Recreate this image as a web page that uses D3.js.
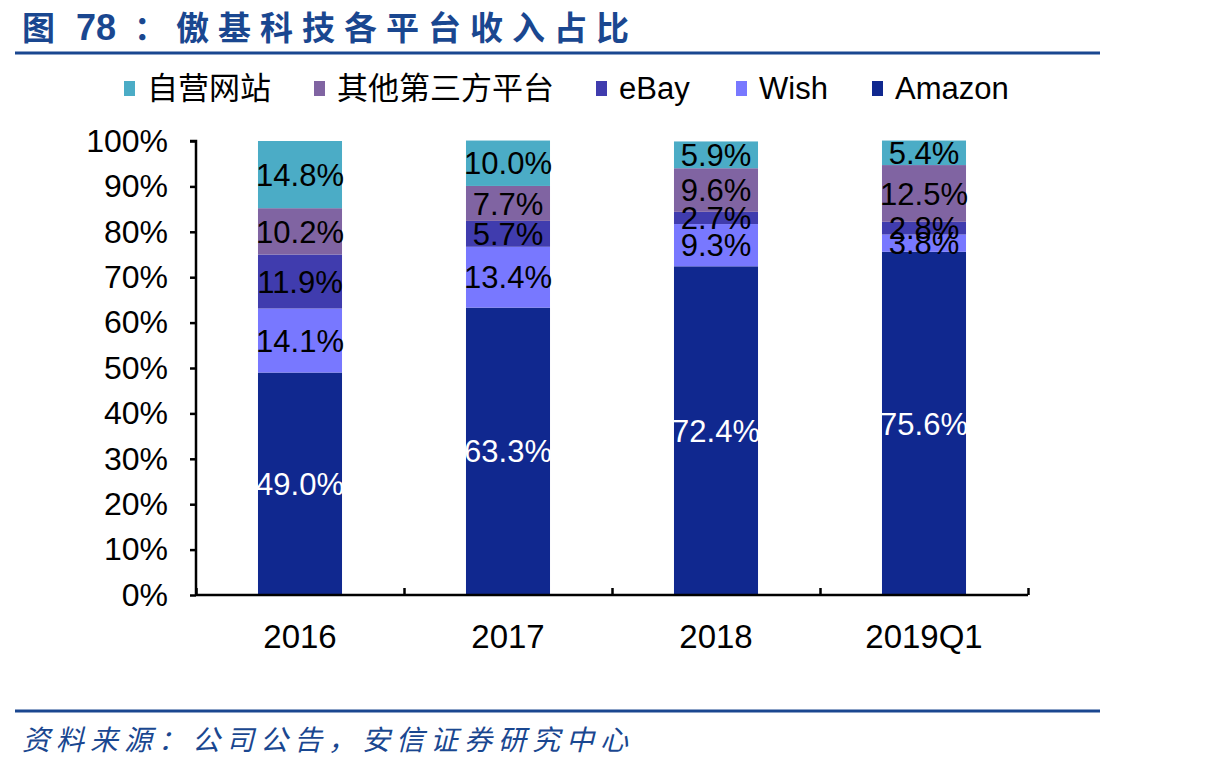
<!DOCTYPE html>
<html><head><meta charset="utf-8">
<script src="https://cdn.jsdelivr.net/npm/d3@7"></script>
<style>body{margin:0;background:#fff}svg{display:block}</style>
</head><body><svg id="c" width="1213" height="768"></svg>
<script>
const categories = ["2016","2017","2018","2019Q1"];
const seriesNames = ["Amazon","Wish","eBay","其他第三方平台","自营网站"];
const amazon = [49.0,63.3,72.4,75.6];
const wish = [14.1,13.4,9.3,3.8];
const ebay = [11.9,5.7,2.7,2.8];
const other = [10.2,7.7,9.6,12.5];
const selfSite = [14.8,10.0,5.9,5.4];
const yTicks = [0,10,20,30,40,50,60,70,80,90,100];
const legendOrder = ["自营网站","其他第三方平台","eBay","Wish","Amazon"];
const colors = {"Amazon":"#10288f","Wish":"#7878ff","eBay":"#403cae","其他第三方平台":"#8064a2","自营网站":"#4bacc6"};
const labelColors = {"Amazon":"#ffffff"};

const values = [amazon,wish,ebay,other,selfSite];
const rows = categories.map((c,i)=>{const r={cat:c}; seriesNames.forEach((s,j)=>r[s]=values[j][i]); return r;});
const stacked = d3.stack().keys(seriesNames)(rows);

const svg = d3.select("#c");
const blue = "#1a4790";
const font = "Arial, 'Liberation Sans', 'Noto Sans CJK SC', sans-serif";

// Title
const title = svg.append("text").attr("x",22).attr("y",40).attr("fill",blue)
  .attr("font-family","'Noto Sans CJK SC', sans-serif").attr("font-weight","bold")
  .attr("font-size",33);
title.append("tspan").text("图");
title.append("tspan").attr("x",76).attr("font-family","Arial, 'Liberation Sans', sans-serif").attr("font-size",36).text("78");
title.append("tspan").attr("x",134).attr("letter-spacing",9).text("：傲基科技各平台收入占比");
svg.append("line").attr("x1",15).attr("x2",1100).attr("y1",53).attr("y2",53).attr("stroke",blue).attr("stroke-width",3);
svg.append("line").attr("x1",15).attr("x2",1100).attr("y1",711).attr("y2",711).attr("stroke",blue).attr("stroke-width",3);
svg.append("text").attr("x",22).attr("y",750).attr("fill",blue)
  .attr("font-family","'Noto Sans CJK SC', sans-serif").attr("font-style","italic")
  .attr("font-size",28).attr("letter-spacing",6).text("资料来源：公司公告，安信证券研究中心");

const x = d3.scaleBand().domain(categories).range([196,1028]).paddingInner(0.596).paddingOuter(0.298);
const y = d3.scaleLinear().domain([0,100]).range([595,141]);

const g = svg.append("g");
stacked.forEach(layer=>{
  g.append("g").selectAll("rect").data(layer).join("rect")
    .attr("x",d=>x(d.data.cat)).attr("width",x.bandwidth())
    .attr("y",d=>y(d[1])).attr("height",d=>y(d[0])-y(d[1]))
    .attr("fill",colors[layer.key]);
});
stacked.forEach(layer=>{
  g.append("g").selectAll("text").data(layer).join("text")
    .attr("x",d=>x(d.data.cat)+x.bandwidth()/2)
    .attr("y",d=>(y(d[0])+y(d[1]))/2)
    .attr("dy","0.36em").attr("text-anchor","middle")
    .attr("font-family",font).attr("font-size",31)
    .attr("fill",labelColors[layer.key]||"#000")
    .text(d=>(d[1]-d[0]).toFixed(1)+"%");
});

// Y axis
const yAxis = d3.axisLeft(y).tickValues(yTicks).tickFormat(d=>d+"%").tickSize(6).tickPadding(22);
const ya = svg.append("g").attr("transform","translate(196,0)").call(yAxis);
ya.select(".domain").attr("stroke","#000").attr("stroke-width",2.5).attr("d","M-6,141H0V595");
ya.selectAll(".tick line").attr("stroke","#000").attr("stroke-width",2.5);
ya.selectAll("text").attr("font-family",font).attr("font-size",32).attr("fill","#000");

// X axis
const xAxis = d3.axisBottom(d3.scaleLinear().domain([0,4]).range([196,1028])).tickValues([0,1,2,3,4]).tickSize(7).tickFormat("");
const xa = svg.append("g").attr("transform","translate(0,595)").call(xAxis);
xa.select(".domain").attr("stroke","#000").attr("stroke-width",2.5).attr("d","M196,0H1028");
xa.selectAll(".tick line").attr("stroke","#000").attr("stroke-width",2.5).attr("y1",0).attr("y2",-7);
svg.append("g").selectAll("text").data(categories).join("text")
  .attr("x",d=>x(d)+x.bandwidth()/2).attr("y",648).attr("text-anchor","middle")
  .attr("font-family",font).attr("font-size",33).attr("fill","#000").text(d=>d);

// Legend
const legendX = [124,314,596,736,872];
const lg = svg.append("g");
legendOrder.forEach((s,i)=>{
  lg.append("rect").attr("x",legendX[i]).attr("y",81).attr("width",11).attr("height",15).attr("fill",colors[s]);
  lg.append("text").attr("x",legendX[i]+23).attr("y",99).attr("font-family",font).attr("font-size",31).attr("fill","#000").text(s);
});
</script></body></html>
